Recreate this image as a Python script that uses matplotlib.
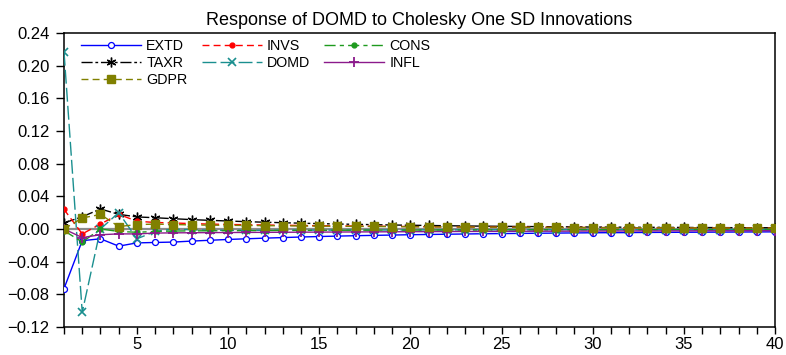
import matplotlib
matplotlib.use("Agg")
import matplotlib.pyplot as plt
from matplotlib.ticker import MultipleLocator, FixedLocator, FuncFormatter

plt.rcParams['font.family'] = ['Liberation Sans', 'DejaVu Sans']

periods = list(range(1, 41))

EXTD = [-0.073, -0.0143, -0.012, -0.021, -0.017, -0.0165, -0.016, -0.0148, -0.0138, -0.0128,
        -0.0120, -0.0112, -0.0105, -0.0098, -0.0092, -0.0087, -0.0082, -0.0078, -0.0074, -0.0070,
        -0.0067, -0.0064, -0.0061, -0.0058, -0.0056, -0.0054, -0.0052, -0.0050, -0.0048, -0.0046,
        -0.0045, -0.0044, -0.0042, -0.0041, -0.0040, -0.0039, -0.0038, -0.0037, -0.0036, -0.0035]
TAXR = [0.0074, 0.015, 0.0245, 0.018, 0.0148, 0.0138, 0.0126, 0.0115, 0.0106, 0.0098,
        0.0090, 0.0083, 0.0077, 0.0071, 0.0066, 0.0061, 0.0057, 0.0053, 0.0049, 0.0046,
        0.0043, 0.0040, 0.0037, 0.0035, 0.0033, 0.0031, 0.0029, 0.0027, 0.0026, 0.0024,
        0.0023, 0.0022, 0.0021, 0.0020, 0.0019, 0.0018, 0.0017, 0.0016, 0.0016, 0.0015]
GDPR = [0.0, 0.0135, 0.0178, 0.003, 0.0054, 0.006, 0.0055, 0.0050, 0.0047, 0.0045,
        0.0043, 0.0041, 0.0039, 0.0037, 0.0035, 0.0034, 0.0032, 0.0031, 0.0029, 0.0028,
        0.0026, 0.0025, 0.0024, 0.0023, 0.0022, 0.0021, 0.0020, 0.0019, 0.0018, 0.0017,
        0.0016, 0.0015, 0.0015, 0.0014, 0.0013, 0.0013, 0.0012, 0.0012, 0.0011, 0.0011]
INVS = [0.024, -0.006, 0.006, 0.018, 0.0095, 0.008, 0.0074, 0.0066, 0.0060, 0.0056,
        0.0052, 0.0049, 0.0046, 0.0043, 0.0040, 0.0038, 0.0036, 0.0034, 0.0032, 0.0030,
        0.0028, 0.0027, 0.0025, 0.0024, 0.0023, 0.0022, 0.0021, 0.0020, 0.0019, 0.0018,
        0.0017, 0.0016, 0.0015, 0.0015, 0.0014, 0.0013, 0.0013, 0.0012, 0.0012, 0.0011]
DOMD = [0.217, -0.102, 0.0, 0.020, -0.012, -0.003, 0.0, -0.001, -0.0015, -0.0016,
        -0.0016, -0.0016, -0.0015, -0.0015, -0.0014, -0.0014, -0.0013, -0.0013, -0.0012, -0.0012,
        -0.0011, -0.0011, -0.0011, -0.0010, -0.0010, -0.0010, -0.0009, -0.0009, -0.0009, -0.0008,
        -0.0008, -0.0008, -0.0008, -0.0007, -0.0007, -0.0007, -0.0007, -0.0006, -0.0006, -0.0006]
CONS = [-0.002, -0.016, 0.0, -0.003, -0.004, -0.003, -0.0025, -0.0023, -0.0022, -0.0021,
        -0.0020, -0.0019, -0.0018, -0.0017, -0.0016, -0.0016, -0.0015, -0.0014, -0.0014, -0.0013,
        -0.0013, -0.0012, -0.0012, -0.0011, -0.0011, -0.0010, -0.0010, -0.0010, -0.0009, -0.0009,
        -0.0009, -0.0008, -0.0008, -0.0008, -0.0007, -0.0007, -0.0007, -0.0007, -0.0006, -0.0006]
INFL = [0.0, -0.0105, -0.007, -0.006, -0.006, -0.005, -0.0047, -0.0046, -0.0044, -0.0043,
        -0.0042, -0.0041, -0.0040, -0.0039, -0.0038, -0.0037, -0.0036, -0.0035, -0.0034, -0.0033,
        -0.0032, -0.0031, -0.0030, -0.0030, -0.0029, -0.0028, -0.0027, -0.0027, -0.0026, -0.0025,
        -0.0025, -0.0024, -0.0024, -0.0023, -0.0023, -0.0022, -0.0022, -0.0021, -0.0021, -0.0020]

title = "Response of DOMD to Cholesky One SD Innovations"
x_tick_labels = [5, 10, 15, 20, 25, 30, 35, 40]

fig = plt.figure(figsize=(7.86, 3.55), dpi=100)
ax = fig.add_axes([64/786, 28/355, 711/786, 294/355])

ax.axhline(0, color='#8c8c8c', lw=1.6, zorder=1)

lw = 1.0
h_extd, = ax.plot(periods, EXTD, color='#0000ff', lw=lw, ls='-', marker='o', ms=4.3,
                  mfc='white', mec='#0000ff', mew=0.9, zorder=3, label='EXTD')
h_taxr, = ax.plot(periods, TAXR, color='black', lw=lw, ls=(0, (8, 2, 2, 2)), marker=(6, 2, 0), ms=7,
                  mew=1.0, zorder=3, label='TAXR')
h_invs, = ax.plot(periods, INVS, color='#ff0000', lw=lw, ls=(0, (5, 3)), marker='o', ms=3.5,
                  mfc='#ff0000', mec='#ff0000', zorder=3, label='INVS')
h_domd, = ax.plot(periods, DOMD, color='#1a8f8f', lw=lw, ls=(0, (10, 3)), marker='x', ms=5.5,
                  mew=1.2, zorder=3, label='DOMD')
h_cons, = ax.plot(periods, CONS, color='#1e9a1e', lw=lw, ls=(0, (8, 3, 3, 3)), marker='o', ms=3.5,
                  mfc='#1e9a1e', mec='#1e9a1e', zorder=3, label='CONS')
h_infl, = ax.plot(periods, INFL, color='#8b1a8b', lw=lw, ls='-', marker='+', ms=7,
                  mew=1.3, zorder=3, label='INFL')
h_gdpr, = ax.plot(periods, GDPR, color='#808000', lw=lw, ls=(0, (5, 3)), marker='s', ms=5.5,
                  mfc='#808000', mec='#808000', zorder=4, label='GDPR')

ax.set_xlim(1, 40)
ax.set_ylim(-0.12, 0.24)
ax.xaxis.set_major_locator(FixedLocator(x_tick_labels))
ax.xaxis.set_minor_locator(MultipleLocator(1))
ax.yaxis.set_major_locator(MultipleLocator(0.04))
ax.yaxis.set_major_formatter(FuncFormatter(lambda v, p: f"{v:.2f}".replace('-', '\u2212')
                                           if abs(v) > 1e-9 else "0.00"))
ax.tick_params(axis='both', which='both', direction='out', length=5, width=1.0,
               top=False, right=False, labelsize=12)
ax.tick_params(axis='x', which='both', pad=2)
ax.tick_params(axis='y', which='both', length=5.5, pad=5)
for s in ax.spines.values():
    s.set_linewidth(1.1)

ax.set_title(title, fontsize=13, pad=6)

handles = [h_extd, h_taxr, h_gdpr, h_invs, h_domd, h_cons, h_infl]
ax.legend(handles=handles, labels=[h.get_label() for h in handles], ncol=3,
          loc='upper left', bbox_to_anchor=(0.024, 0.978), frameon=False,
          fontsize=10.3, handlelength=4.2, handletextpad=0.35, columnspacing=1.0,
          labelspacing=0.2, borderpad=0, borderaxespad=0)

fig.savefig('out.png', dpi=100)
